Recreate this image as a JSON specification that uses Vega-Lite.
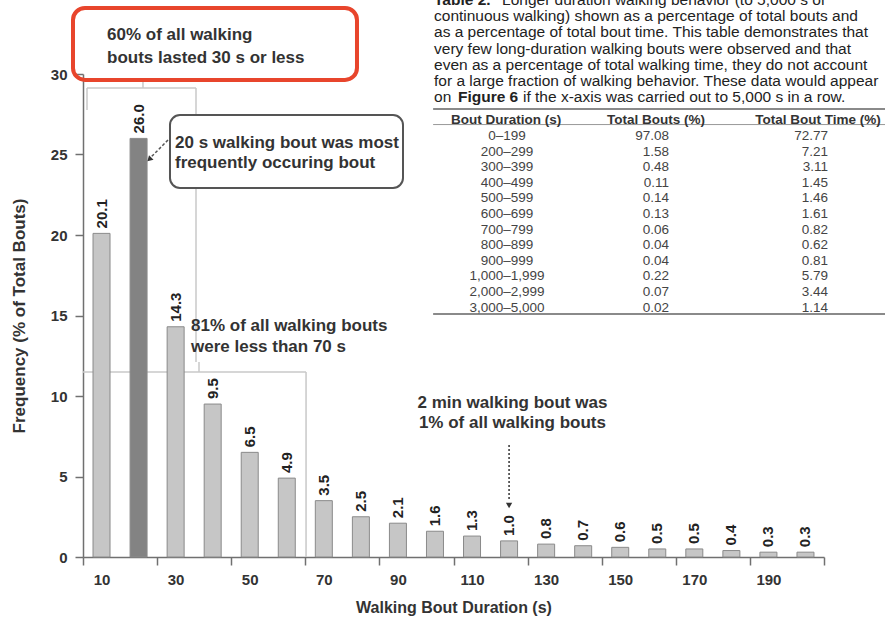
{
  "$schema": "https://vega.github.io/schema/vega-lite/v6.json",
  "width": 741,
  "height": 483,
  "autosize": {"type": "none"},
  "padding": {"left": 83, "top": 74, "right": 61, "bottom": 64},
  "background": "white",
  "config": {
    "view": {"stroke": null},
    "font": "Liberation Sans",
    "text": {"font": "Liberation Sans"}
  },
  "datasets": {
    "bouts": [
      {"duration": 10, "pct": 20.1},
      {"duration": 20, "pct": 26.0},
      {"duration": 30, "pct": 14.3},
      {"duration": 40, "pct": 9.5},
      {"duration": 50, "pct": 6.5},
      {"duration": 60, "pct": 4.9},
      {"duration": 70, "pct": 3.5},
      {"duration": 80, "pct": 2.5},
      {"duration": 90, "pct": 2.1},
      {"duration": 100, "pct": 1.6},
      {"duration": 110, "pct": 1.3},
      {"duration": 120, "pct": 1.0},
      {"duration": 130, "pct": 0.8},
      {"duration": 140, "pct": 0.7},
      {"duration": 150, "pct": 0.6},
      {"duration": 160, "pct": 0.5},
      {"duration": 170, "pct": 0.5},
      {"duration": 180, "pct": 0.4},
      {"duration": 190, "pct": 0.3},
      {"duration": 200, "pct": 0.3}
    ],
    "table": [
      {"row": 0, "range": "0–199", "bouts": 97.08, "time": 72.77},
      {"row": 1, "range": "200–299", "bouts": 1.58, "time": 7.21},
      {"row": 2, "range": "300–399", "bouts": 0.48, "time": 3.11},
      {"row": 3, "range": "400–499", "bouts": 0.11, "time": 1.45},
      {"row": 4, "range": "500–599", "bouts": 0.14, "time": 1.46},
      {"row": 5, "range": "600–699", "bouts": 0.13, "time": 1.61},
      {"row": 6, "range": "700–799", "bouts": 0.06, "time": 0.82},
      {"row": 7, "range": "800–899", "bouts": 0.04, "time": 0.62},
      {"row": 8, "range": "900–999", "bouts": 0.04, "time": 0.81},
      {"row": 9, "range": "1,000–1,999", "bouts": 0.22, "time": 5.79},
      {"row": 10, "range": "2,000–2,999", "bouts": 0.07, "time": 3.44},
      {"row": 11, "range": "3,000–5,000", "bouts": 0.02, "time": 1.14}
    ],
    "one": [{}]
  },
  "layer": [
    {
      "layer": [
        {
          "data": {"name": "one"},
          "layer": [
            {"mark": {"type": "rule", "color": "#c8c8c8", "strokeWidth": 1.5}, "encoding": {"x": {"datum": 6.08}, "x2": {"datum": 35.5}, "y": {"datum": 29.13}}},
            {"mark": {"type": "rule", "color": "#c8c8c8", "strokeWidth": 1.5}, "encoding": {"x": {"datum": 21.19}, "y": {"datum": 29.13}, "y2": {"datum": 29.63}}},
            {"mark": {"type": "rule", "color": "#c8c8c8", "strokeWidth": 1.5}, "encoding": {"x": {"datum": 6.08}, "y": {"datum": 29.13}, "y2": {"datum": 27.76}}},
            {"mark": {"type": "rule", "color": "#c8c8c8", "strokeWidth": 1.5}, "encoding": {"x": {"datum": 35.5}, "y": {"datum": 29.13}, "y2": {"datum": 12.11}}},
            {"mark": {"type": "rule", "color": "#c8c8c8", "strokeWidth": 1.5}, "encoding": {"x": {"datum": 5}, "x2": {"datum": 65.2}, "y": {"datum": 11.49}}},
            {"mark": {"type": "rule", "color": "#c8c8c8", "strokeWidth": 1.5}, "encoding": {"x": {"datum": 36.31}, "y": {"datum": 11.49}, "y2": {"datum": 12.11}}},
            {"mark": {"type": "rule", "color": "#c8c8c8", "strokeWidth": 1.5}, "encoding": {"x": {"datum": 65.2}, "y": {"datum": 11.49}, "y2": {"datum": 0}}}
          ]
        },
        {
          "data": {"name": "bouts"},
          "mark": {"type": "bar", "width": 17, "stroke": "#8a8a8a", "strokeWidth": 1},
          "encoding": {
            "x": {
              "field": "duration",
              "type": "quantitative",
              "scale": {"domain": [5, 205], "nice": false, "zero": false, "padding": 0},
              "axis": {
                "title": "Walking Bout Duration (s)",
                "values": [5, 15, 25, 35, 45, 55, 65, 75, 85, 95, 105, 115, 125, 135, 145, 155, 165, 175, 185, 195, 205],
                "labelExpr": "(datum.value % 20 === 5 && datum.value < 200) ? '' + (datum.value + 5) : ''",
                "labelOffset": 18.5,
                "labelOverlap": false,
                "labelFlush": false,
                "grid": false,
                "tickSize": 8,
                "tickWidth": 1.5,
                "tickColor": "#707070",
                "domainColor": "#707070",
                "domainWidth": 1.5,
                "labelPadding": 7,
                "labelFont": "Liberation Sans",
                "labelFontSize": 15,
                "labelFontWeight": "bold",
                "labelColor": "#333333",
                "titleFont": "Liberation Sans",
                "titleFontSize": 16,
                "titleFontWeight": "bold",
                "titleColor": "#333333",
                "titlePadding": 12
              }
            },
            "y": {
              "field": "pct",
              "type": "quantitative",
              "scale": {"domain": [0, 30], "nice": false},
              "axis": {
                "title": "Frequency (% of Total Bouts)",
                "values": [0, 5, 10, 15, 20, 25, 30],
                "grid": false,
                "tickSize": 8,
                "tickWidth": 1.5,
                "tickColor": "#707070",
                "domainColor": "#707070",
                "domainWidth": 1.5,
                "labelPadding": 8,
                "labelFont": "Liberation Sans",
                "labelFontSize": 15,
                "labelFontWeight": "bold",
                "labelColor": "#333333",
                "titleFont": "Liberation Sans",
                "titleFontSize": 17,
                "titleFontWeight": "bold",
                "titleColor": "#333333",
                "titlePadding": 22
              }
            },
            "fill": {"condition": {"test": "datum.duration === 20", "value": "#838383"}, "value": "#c6c6c6"}
          }
        },
        {
          "data": {"name": "bouts"},
          "mark": {"type": "text", "angle": 270, "align": "left", "baseline": "middle", "dx": 5, "fontSize": 15, "fontWeight": "bold", "color": "#222222"},
          "encoding": {
            "x": {"field": "duration", "type": "quantitative"},
            "y": {"field": "pct", "type": "quantitative"},
            "text": {"field": "pct", "type": "quantitative", "format": ".1f"}
          }
        },
        {
          "data": {"name": "one"},
          "layer": [
            {"mark": {"type": "rect", "fill": "transparent", "stroke": "#e8452c", "strokeWidth": 4, "cornerRadius": 12}, "encoding": {"x": {"datum": 2.3}, "x2": {"datum": 78.95}, "y": {"datum": 34.1}, "y2": {"datum": 29.63}}},
            {"mark": {"type": "text", "text": ["60% of all walking", "bouts lasted 30 s or less"], "align": "left", "baseline": "middle", "lineHeight": 23, "fontSize": 17, "fontWeight": "bold", "color": "#333333"}, "encoding": {"x": {"datum": 11.48}, "y": {"datum": 32.42}}},
            {"mark": {"type": "rect", "fill": "white", "stroke": "#555555", "strokeWidth": 2, "cornerRadius": 10}, "encoding": {"x": {"datum": 28.48}, "x2": {"datum": 91.37}, "y": {"datum": 27.45}, "y2": {"datum": 22.92}}},
            {"mark": {"type": "text", "text": ["20 s walking bout was most", "frequently occuring bout"], "align": "left", "baseline": "middle", "lineHeight": 20, "fontSize": 17, "fontWeight": "bold", "color": "#333333"}, "encoding": {"x": {"datum": 29.83}, "y": {"datum": 25.71}}},
            {"mark": {"type": "rule", "color": "#555555", "strokeWidth": 1.5, "strokeDash": [3, 2]}, "encoding": {"x": {"datum": 27.94}, "x2": {"datum": 23.2}, "y": {"datum": 25.9}, "y2": {"datum": 24.8}}},
            {"mark": {"type": "point", "shape": "triangle-up", "angle": 225, "filled": true, "size": 40, "color": "#333333", "opacity": 1}, "encoding": {"x": {"datum": 22.9}, "y": {"datum": 24.7}}},
            {"mark": {"type": "text", "text": ["81% of all walking bouts", "were less than 70 s"], "align": "left", "baseline": "middle", "lineHeight": 21, "fontSize": 17, "fontWeight": "bold", "color": "#333333"}, "encoding": {"x": {"datum": 34.15}, "y": {"datum": 14.35}}},
            {"mark": {"type": "text", "text": ["2 min walking bout was", "1% of all walking bouts"], "align": "center", "baseline": "middle", "lineHeight": 20, "fontSize": 17, "fontWeight": "bold", "color": "#333333"}, "encoding": {"x": {"datum": 120.9}, "y": {"datum": 9.57}}},
            {"mark": {"type": "rule", "color": "#333333", "strokeWidth": 1.5, "strokeDash": [2, 2]}, "encoding": {"x": {"datum": 120}, "y": {"datum": 6.96}, "y2": {"datum": 3.5}}},
            {"mark": {"type": "point", "shape": "triangle-down", "filled": true, "size": 40, "color": "#333333", "opacity": 1}, "encoding": {"x": {"datum": 120}, "y": {"datum": 3.2}}},
            {"mark": {"type": "text", "text": "Table 2.", "align": "left", "baseline": "middle", "fontSize": 15.5, "fontWeight": "bold", "color": "#222222"}, "encoding": {"x": {"datum": 99.74}, "y": {"datum": 34.61}}},
            {"mark": {"type": "text", "text": "Longer duration walking behavior (to 5,000 s of", "align": "left", "baseline": "middle", "fontSize": 15.5, "color": "#222222"}, "encoding": {"x": {"datum": 118.1}, "y": {"datum": 34.61}}},
            {"mark": {"type": "text", "text": ["continuous walking) shown as a percentage of total bouts and", "as a percentage of total bout time. This table demonstrates that", "very few long-duration walking bouts were observed and that", "even as a percentage of total walking time, they do not account", "for a large fraction of walking behavior. These data would appear"], "align": "left", "baseline": "middle", "lineHeight": 16.26, "fontSize": 15.5, "color": "#222222"}, "encoding": {"x": {"datum": 99.74}, "y": {"datum": 33.6}}},
            {"mark": {"type": "text", "text": "on", "align": "left", "baseline": "middle", "fontSize": 15.5, "color": "#222222"}, "encoding": {"x": {"datum": 99.74}, "y": {"datum": 28.55}}},
            {"mark": {"type": "text", "text": "Figure 6", "align": "left", "baseline": "middle", "fontSize": 15.5, "fontWeight": "bold", "color": "#222222"}, "encoding": {"x": {"datum": 106.2}, "y": {"datum": 28.55}}},
            {"mark": {"type": "text", "text": "if the x-axis was carried out to 5,000 s in a row.", "align": "left", "baseline": "middle", "fontSize": 15.5, "color": "#222222"}, "encoding": {"x": {"datum": 123.76}, "y": {"datum": 28.55}}},
            {"mark": {"type": "rule", "color": "#8a8a8a", "strokeWidth": 2}, "encoding": {"x": {"datum": 99.5}, "x2": {"datum": 221.5}, "y": {"datum": 27.83}}},
            {"mark": {"type": "rule", "color": "#999999", "strokeWidth": 1}, "encoding": {"x": {"datum": 99.5}, "x2": {"datum": 221.5}, "y": {"datum": 26.86}}},
            {"mark": {"type": "rule", "color": "#8a8a8a", "strokeWidth": 2}, "encoding": {"x": {"datum": 99.5}, "x2": {"datum": 221.5}, "y": {"datum": 15.09}}},
            {"mark": {"type": "text", "text": "Bout Duration (s)", "align": "center", "baseline": "middle", "fontSize": 13.5, "fontWeight": "bold", "color": "#333333"}, "encoding": {"x": {"datum": 119.2}, "y": {"datum": 27.14}}},
            {"mark": {"type": "text", "text": "Total Bouts (%)", "align": "center", "baseline": "middle", "fontSize": 13.5, "fontWeight": "bold", "color": "#333333"}, "encoding": {"x": {"datum": 159.66}, "y": {"datum": 27.14}}},
            {"mark": {"type": "text", "text": "Total Bout Time (%)", "align": "center", "baseline": "middle", "fontSize": 13.5, "fontWeight": "bold", "color": "#333333"}, "encoding": {"x": {"datum": 203.4}, "y": {"datum": 27.14}}}
          ]
        }
      ]
    },
    {
      "data": {"name": "table"},
      "encoding": {
        "y": {"field": "row", "type": "quantitative", "scale": {"domain": [-3.974, 26.99], "reverse": true, "nice": false, "zero": false}, "axis": null}
      },
      "layer": [
        {"mark": {"type": "text", "align": "center", "baseline": "middle", "fontSize": 13.5, "color": "#444444"}, "encoding": {"x": {"datum": 119.44}, "text": {"field": "range", "type": "nominal"}}},
        {"mark": {"type": "text", "align": "right", "baseline": "middle", "fontSize": 13.5, "color": "#444444"}, "encoding": {"x": {"datum": 163.2}, "text": {"field": "bouts", "type": "quantitative", "format": ".2f"}}},
        {"mark": {"type": "text", "align": "right", "baseline": "middle", "fontSize": 13.5, "color": "#444444"}, "encoding": {"x": {"datum": 206.1}, "text": {"field": "time", "type": "quantitative", "format": ".2f"}}}
      ]
    }
  ],
  "resolve": {"scale": {"y": "independent"}}
}
